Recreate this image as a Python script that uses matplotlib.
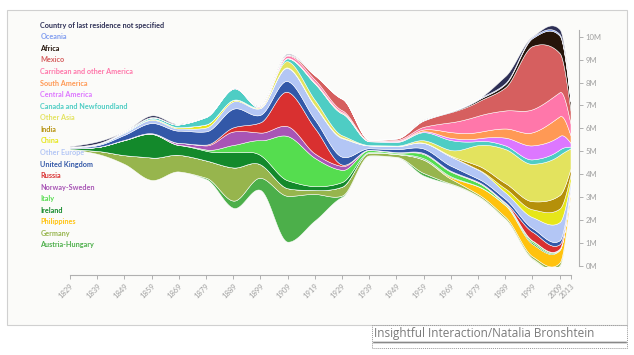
import numpy as np
import matplotlib
matplotlib.use("Agg")
import matplotlib.pyplot as plt
from matplotlib.patches import Rectangle
from matplotlib.lines import Line2D

# Immigrants by country of last residence, per decade (thousands)
years = [1829, 1839, 1849, 1859, 1869, 1879, 1889, 1899, 1909, 1919,
         1929, 1939, 1949, 1959, 1969, 1979, 1989, 1999, 2009, 2013]

austria_hungary = [0, 0, 0, 0, 3.4, 60.1, 314.8, 534.1, 2001.4, 1154.7, 60.9, 12.5, 13.6, 113.0, 27.6, 20.4, 20.4, 27.5, 33.9, 6]
germany = [5.8, 124.7, 385.4, 976.1, 723.7, 751.8, 1445.2, 579.1, 328.7, 174.2, 386.6, 119.1, 119.5, 576.9, 209.6, 77.1, 85.8, 92.2, 122.2, 28]
philippines = [0, 0, 0, 0, 0, 0, 0, 0, 0, 0, 0, 0.4, 4.1, 17.2, 70.7, 337.7, 502.1, 534.3, 545.5, 219]
ireland = [51.6, 170.7, 656.1, 1029.5, 427.4, 422.3, 674.1, 405.7, 344.9, 166.4, 202.9, 28.2, 15.7, 47.2, 37.8, 11.5, 22.2, 65.4, 15.6, 6]
italy = [0.4, 2.3, 1.9, 9.2, 11.7, 55.8, 307.3, 651.9, 1930.5, 1229.9, 528.1, 85.1, 50.5, 184.6, 200.1, 150.0, 55.6, 76.0, 28.3, 11]
norway_sweden = [0.1, 1.1, 12.4, 22.2, 82.9, 178.8, 586.4, 334.1, 427.0, 192.4, 170.3, 13.5, 17.3, 44.2, 36.2, 14.5, 13.9, 17.8, 19.0, 7]
russia = [0.1, 0.3, 0.5, 0.4, 1.7, 35.2, 182.7, 450.1, 1501.3, 1107.0, 61.6, 2.5, 0.6, 0.5, 2.3, 28.1, 33.3, 380.0, 190.0, 27]
united_kingdom = [26.3, 74.4, 218.6, 445.3, 533.0, 578.4, 810.9, 328.8, 469.5, 371.9, 341.6, 61.8, 131.8, 195.7, 220.2, 133.2, 153.6, 156.2, 172.0, 56]
other_europe = [15.0, 49.3, 94.3, 139.9, 96.6, 169.7, 317.3, 292.8, 569.3, 588.8, 808.3, 121.8, 123.5, 242.9, 399.6, 390.7, 284.0, 480.1, 791.4, 199]
china = [0, 0, 0, 35.9, 54.0, 133.1, 65.8, 15.3, 19.9, 20.9, 30.6, 5.9, 16.1, 8.8, 14.1, 17.6, 170.9, 342.1, 591.7, 296]
india = [0, 0, 0, 0, 0, 0.2, 0.3, 0.1, 4.7, 2.1, 1.9, 0.5, 1.8, 2.0, 27.2, 164.1, 231.6, 352.5, 590.5, 261]
other_asia = [0, 0, 0.1, 0.1, 0.4, 0.8, 5.0, 46.0, 275.0, 246.7, 94.2, 12.5, 12.6, 107.8, 246.7, 887.0, 1486.7, 1631.0, 1743.0, 878]
canada = [2.3, 11.9, 34.3, 64.2, 118.0, 324.3, 492.9, 3.3, 123.1, 708.7, 949.3, 162.7, 160.9, 353.2, 433.1, 179.3, 156.3, 194.8, 236.3, 79]
central_america = [0.1, 0.1, 0.3, 0.5, 0.1, 0.2, 0.3, 0.6, 7.3, 15.7, 16.5, 6.8, 20.8, 40.2, 98.6, 120.4, 339.4, 610.2, 591.1, 163]
south_america = [0.4, 1.0, 1.1, 3.6, 1.5, 1.1, 2.0, 1.4, 15.3, 39.9, 43.0, 10.0, 19.7, 78.4, 250.8, 273.6, 399.9, 570.6, 856.5, 325]
caribbean = [3.1, 11.8, 11.8, 12.4, 8.8, 14.3, 27.3, 31.5, 101.0, 120.9, 83.5, 18.1, 46.2, 115.7, 427.2, 708.9, 786.0, 1004.7, 1053.4, 515]
mexico = [3.8, 7.2, 3.1, 3.4, 2.0, 5.1, 2.4, 0.7, 31.2, 185.3, 498.9, 32.7, 56.2, 273.8, 441.8, 621.2, 1009.6, 2757.4, 1704.2, 562]
africa = [0, 0.1, 0.1, 0.1, 0.4, 0.4, 0.8, 0.4, 6.3, 8.9, 6.4, 2.1, 6.7, 13.0, 23.8, 71.4, 142.0, 346.4, 759.7, 392]
oceania = [0, 0, 0, 0.2, 0.2, 10.0, 12.4, 4.7, 12.4, 12.3, 9.9, 3.3, 14.3, 11.4, 23.6, 40.0, 41.4, 56.8, 65.8, 24]
not_specified = [19.5, 83.6, 7.4, 74.4, 18.2, 0.8, 0.8, 14.1, 33.5, 0.5, 0.9, 0, 0.1, 12.5, 0.1, 0.3, 305.4, 25.9, 211.9, 1]

# bottom -> top
names = ["Austria-Hungary", "Germany", "Philippines", "Ireland", "Italy",
         "Norway-Sweden", "Russia", "United Kingdom", "Other Europe", "China",
         "India", "Other Asia", "Canada and Newfoundland", "Central America",
         "South America", "Carribean and other America", "Mexico", "Africa",
         "Oceania", "Country of last residence not specified"]
series = [austria_hungary, germany, philippines, ireland, italy, norway_sweden,
          russia, united_kingdom, other_europe, china, india, other_asia, canada,
          central_america, south_america, caribbean, mexico, africa, oceania,
          not_specified]
colors = ["#4caf4a", "#97b54d", "#ffc20e", "#13892b", "#55dd4f", "#a855b5",
          "#d93030", "#3358a8", "#b3c6f5", "#e6e61a", "#b5900a", "#e3e35e",
          "#4ecdc4", "#dd77ff", "#ff9955", "#ff77aa", "#d65f5f", "#24140a",
          "#7f9cf0", "#2d2f55"]


def monotone(x, y, xs):
    """monotone cubic (like d3.curveMonotoneX)"""
    x = np.asarray(x, float)
    y = np.asarray(y, float)
    h = np.diff(x)
    d = np.diff(y) / h
    n = len(x)
    m = np.zeros(n)
    for i in range(1, n - 1):
        s0, s1 = d[i - 1], d[i]
        p = (s0 * h[i] + s1 * h[i - 1]) / (h[i - 1] + h[i])
        m[i] = (np.sign(s0) + np.sign(s1)) * min(abs(s0), abs(s1), 0.5 * abs(p))
    m[0] = (3 * d[0] - m[1]) / 2
    m[-1] = (3 * d[-1] - m[-2]) / 2
    idx = np.clip(np.searchsorted(x, xs) - 1, 0, n - 2)
    t = (xs - x[idx]) / h[idx]
    h00 = 2 * t**3 - 3 * t**2 + 1
    h10 = t**3 - 2 * t**2 + t
    h01 = -2 * t**3 + 3 * t**2
    h11 = t**3 - t**2
    out = h00 * y[idx] + h10 * h[idx] * m[idx] + h01 * y[idx + 1] + h11 * h[idx] * m[idx + 1]
    return np.clip(out, 0, None)


W, H = 634, 355
fig = plt.figure(figsize=(W / 100, H / 100), dpi=100)
fig.patch.set_facecolor("white")

# outer frame
fig.add_artist(Rectangle((7 / W, 1 - 325 / H), 620 / W, 315 / H, transform=fig.transFigure,
                         facecolor="#fbfbf9", edgecolor="#d0d0d0", lw=0.8, zorder=0))

ax = fig.add_axes([70 / W, 1 - 266 / H, 500.5 / W, 246 / H])
ax.patch.set_alpha(0)

xs = np.linspace(years[0], years[-1], 900)
vals = np.array([monotone(years, np.array(s) / 1000.0, xs) for s in series])
total_max = np.array(series).sum(axis=0).max() / 1000.0
base = total_max / 2 - vals.sum(axis=0) / 2
lower = base.copy()
for v, c in zip(vals, colors):
    upper = lower + v
    ax.fill_between(xs, lower, upper, facecolor=c, edgecolor="white", lw=0.35)
    lower = upper

ax.set_xlim(years[0], years[-1])
ax.set_ylim(0, 246 / 22.93)

for s in ["top", "left"]:
    ax.spines[s].set_visible(False)
ax.spines["bottom"].set_position(("outward", 6.5))
ax.spines["right"].set_position(("outward", 6))
ax.spines["bottom"].set_bounds(years[0], years[-1])
ax.spines["right"].set_bounds(0, 10.3)
for s in ["bottom", "right"]:
    ax.spines[s].set_color("#b0b0b0")
    ax.spines[s].set_linewidth(0.8)

ax.set_xticks(years)
ax.set_xticklabels([str(y) for y in years], rotation=45, ha="right", va="top",
                   rotation_mode="anchor", fontsize=5.5, color="#a0a0a0", family="Lato")
ax.yaxis.tick_right()
ax.set_yticks(range(0, 11))
ax.set_yticklabels([f"{v}M" for v in range(0, 11)], fontsize=5.5, color="#a0a0a0", family="Lato")
ax.tick_params(axis="both", length=3, width=0.7, color="#b0b0b0", pad=2)

# legend (top of stack first)
for i, (nm, c) in enumerate(zip(names[::-1], colors[::-1])):
    y = 25.3 + i * 11.56
    fig.text(40.5 / W, 1 - y / H, nm, color=c, fontsize=5.2, fontweight="bold",
             family="Lato", va="center", ha="left")

# credit, underlined, in a dotted box
fig.add_artist(Rectangle((372 / W, 1 - 347.5 / H), 255 / W, 22.5 / H, transform=fig.transFigure,
                         facecolor="none", edgecolor="#999999", lw=0.7, linestyle=(0, (1, 1))))
fig.text(374 / W, 1 - 334 / H, "Insightful Interaction/Natalia Bronshtein", color="#7a7a7a",
         fontsize=8.5, family="Open Sans", va="center", ha="left")
fig.add_artist(Line2D([374 / W, 626 / W], [1 - 342.5 / H] * 2, transform=fig.transFigure,
                      color="#888888", lw=1.2, zorder=10, snap=False))

fig.savefig("out.png", dpi=100)
